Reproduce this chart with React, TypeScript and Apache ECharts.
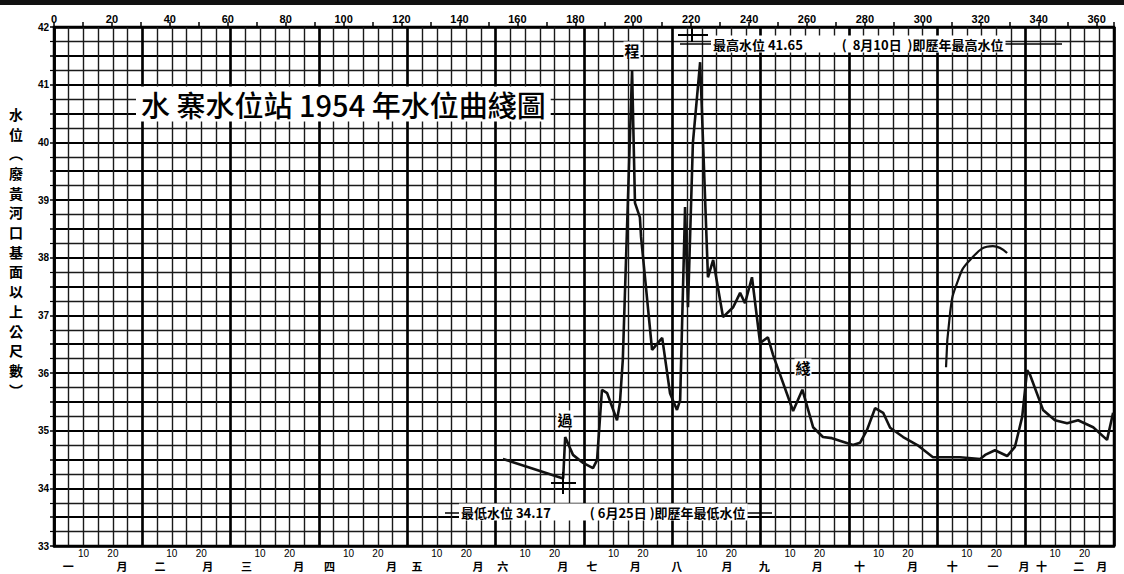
import React, { useEffect, useRef } from "react";
import * as echarts from "echarts";

// Day of year (1954) and water level (m above the old Yellow River mouth datum)
const dayOfYear = [155.0, 175.8, 176.5, 179.2, 182.7, 186.1, 187.5, 189.2, 191.0, 194.4, 195.4, 196.4, 199.6, 200.6, 202.3, 202.7, 206.5, 210.0, 212.7, 215.1, 216.2, 217.9, 218.9, 220.6, 223.1, 225.8, 227.6, 231.0, 234.5, 236.9, 238.6, 241.0, 243.8, 246.5, 248.3, 255.2, 258.4, 262.1, 265.5, 268.6, 275.9, 278.3, 280.7, 283.5, 286.3, 288.7, 293.2, 298.1, 303.5, 308.3, 312.8, 319.8, 321.5, 324.9, 329.1, 331.8, 334.3, 336.0, 337.0, 341.5, 345.6, 349.8, 353.6, 358.8, 363.6, 365.7];
const waterLevel = [34.51, 34.17, 34.89, 34.58, 34.44, 34.35, 34.49, 35.71, 35.65, 35.18, 35.48, 36.23, 41.25, 38.95, 38.70, 38.36, 36.40, 36.61, 35.65, 35.36, 35.53, 38.88, 37.14, 39.99, 41.39, 37.66, 37.96, 36.97, 37.14, 37.39, 37.21, 37.66, 36.52, 36.62, 36.31, 35.34, 35.71, 35.06, 34.89, 34.87, 34.75, 34.79, 35.01, 35.39, 35.31, 35.05, 34.89, 34.75, 34.54, 34.54, 34.54, 34.51, 34.58, 34.66, 34.56, 34.72, 35.24, 36.05, 35.97, 35.36, 35.18, 35.13, 35.18, 35.06, 34.84, 35.31];

// separate arc drawn in November
const arcDays = [308.0, 309.4, 311.8, 316.3, 324.2, 329.1];
const arcLevels = [36.10, 37.04, 37.56, 37.96, 38.20, 38.08];

// bottom axis labels (in month units)
const dayLabelTexts = ["10", "20"];
const monthLabelPos = [0.16, 0.77, 1.2, 1.74, 2.18, 2.77, 3.12, 3.82, 4.11, 4.8, 5.08, 5.76, 6.09, 6.58, 7.05, 7.62, 8.04, 8.64, 9.12, 9.72, 10.17, 10.63, 10.98, 11.18, 11.6, 11.86];
const monthLabelTexts = ["一", "月", "二", "月", "三", "月", "四", "月", "五", "月", "六", "月", "七", "月", "八", "月", "九", "月", "十", "月", "十", "一", "月", "十", "二", "月"];

const titleText = "水 寨水位站 1954 年水位曲綫圖";
const yTitleChars = ["水", "位", "︵", "廢", "黃", "河", "口", "基", "面", "以", "上", "公", "尺", "數", "︶"];
const maxNote = "最高水位 41.65　　　(  8月10日  )即歷年最高水位";
const minNote = "最低水位 34.17　　　( 6月25日 )即歷年最低水位";

const CJK = '"Noto Sans CJK TC", "Noto Sans CJK SC", sans-serif';

export default function App() {
  const ref = useRef<HTMLDivElement>(null);
  useEffect(() => {
    if (!ref.current) return;
    const chart = echarts.init(ref.current, undefined, { renderer: "svg" });

    const dayLabelPos: number[] = [];
    for (let m = 0; m < 12; m++) {
      dayLabelPos.push(m + 1 / 3, m + 2 / 3);
    }
    const nearestText = (v: number, pos: number[], texts: string[]) => {
      let best = 0;
      let bd = Infinity;
      pos.forEach((p, i) => {
        const d = Math.abs(p - v);
        if (d < bd) { bd = d; best = i; }
      });
      return bd < 0.02 ? texts[best] : "";
    };

    const option: any = {
      animation: false,
      backgroundColor: "#fff",
      grid: { left: 54, right: 10, top: 27, bottom: 28, show: true, borderColor: "#000", borderWidth: 2.5 },
      xAxis: [
        { type: "value", min: 0, max: 366, show: false, position: "bottom" },
        {
          type: "value", min: 0, max: 366, interval: 10, position: "top",
          axisLine: { show: true, lineStyle: { color: "#000", width: 2.5 } },
          axisTick: { show: true, length: 5, lineStyle: { color: "#000", width: 1.5 } },
          axisLabel: {
            formatter: (v: number) => (v % 20 === 0 && v <= 360 ? String(v) : ""),
            fontSize: 11, fontWeight: "bold", color: "#000", margin: 3, fontFamily: "Liberation Sans",
          },
          splitLine: { show: false },
        },
        {
          type: "value", min: 0, max: 12, interval: 1, position: "bottom",
          axisLine: { show: true, lineStyle: { color: "#000", width: 2.5 } },
          axisTick: { show: false },
          splitLine: { show: true, lineStyle: { color: "#000", width: 2.6 } },
          axisLabel: {
            customValues: dayLabelPos,
            formatter: (v: number) => {
              const frac = v - Math.floor(v + 1e-6);
              return frac < 0.5 ? dayLabelTexts[0] : dayLabelTexts[1];
            },
            fontSize: 10, color: "#000", margin: 2, fontFamily: "Liberation Sans",
          },
          z: 3,
        },
        {
          type: "value", min: 0, max: 12, position: "bottom", offset: 12,
          axisLine: { show: false }, axisTick: { show: false }, splitLine: { show: false },
          axisLabel: {
            customValues: monthLabelPos,
            formatter: (v: number) => nearestText(v, monthLabelPos, monthLabelTexts),
            fontSize: 11, fontWeight: "bold", color: "#000", margin: 2, fontFamily: CJK,
          },
        },
        {
          // six cells per month
          type: "value", min: 0, max: 72, interval: 1, position: "top",
          axisLine: { show: false }, axisTick: { show: false }, axisLabel: { show: false },
          splitLine: { show: true, lineStyle: { color: "#1a1a1a", width: 1.4 } },
          z: 1,
        },
      ],
      yAxis: [
        {
          type: "value", min: 33, max: 42, interval: 0.5,
          axisLine: { show: true, lineStyle: { color: "#000", width: 2.5 } },
          axisTick: { show: true, length: 4, lineStyle: { color: "#000", width: 1.5 } },
          minorTick: { show: true, splitNumber: 2, length: 4, lineStyle: { color: "#000", width: 1.2 } },
          splitLine: { show: true, lineStyle: { color: "#000", width: 2.2 } },
          minorSplitLine: { show: true, lineStyle: { color: "#1a1a1a", width: 1.4 } },
          axisLabel: {
            formatter: (v: number) => (Math.abs(v - Math.round(v)) < 1e-6 ? String(Math.round(v)) : ""),
            fontSize: 10, fontWeight: "bold", color: "#000", margin: 5, fontFamily: "Liberation Sans",
          },
        },
      ],
      series: [
        {
          type: "line", xAxisIndex: 0, yAxisIndex: 0, showSymbol: false, z: 5,
          lineStyle: { color: "#111", width: 2.6 },
          data: dayOfYear.map((d, i) => [d, waterLevel[i]]),
        },
        {
          type: "line", xAxisIndex: 0, yAxisIndex: 0, showSymbol: false, smooth: true, z: 5,
          lineStyle: { color: "#111", width: 2.2 },
          data: arcDays.map((d, i) => [d, arcLevels[i]]),
        },
      ],
      graphic: [
        { type: "rect", shape: { x: 0, y: 0, width: 1124, height: 5 }, style: { fill: "#111" }, z: 100 },
        {
          type: "text", x: 136, y: 104, z: 100,
          style: {
            text: titleText, font: `500 29px ${CJK}`, fill: "#000", verticalAlign: "middle",
            backgroundColor: "#fff", padding: [3, 5],
          },
        },
        {
          type: "text", x: 16, y: 104, z: 100,
          style: {
            text: yTitleChars.join("\n"), font: `bold 14px ${CJK}`, fill: "#000",
            align: "center", lineHeight: 19.7,
          },
        },
        // max note
        { type: "line", z: 100, shape: { x1: 680, y1: 44, x2: 1062, y2: 44 }, style: { stroke: "#000", lineWidth: 1.5 } },
        { type: "line", z: 100, shape: { x1: 678, y1: 35, x2: 708, y2: 35 }, style: { stroke: "#000", lineWidth: 2 } },
        { type: "line", z: 100, shape: { x1: 692, y1: 28, x2: 692, y2: 42 }, style: { stroke: "#000", lineWidth: 2 } },
        {
          type: "text", x: 711, y: 44, z: 101,
          style: { text: maxNote, font: `bold 13px ${CJK}`, fill: "#000", verticalAlign: "middle", backgroundColor: "#fff", padding: [2, 2] },
        },
        // min note
        { type: "line", z: 100, shape: { x1: 445, y1: 513, x2: 772, y2: 513 }, style: { stroke: "#000", lineWidth: 1.5 } },
        { type: "line", z: 100, shape: { x1: 551, y1: 483, x2: 576, y2: 483 }, style: { stroke: "#000", lineWidth: 2 } },
        { type: "line", z: 100, shape: { x1: 563, y1: 472, x2: 563, y2: 494 }, style: { stroke: "#000", lineWidth: 2 } },
        {
          type: "text", x: 459, y: 512, z: 101,
          style: { text: minNote, font: `bold 13px ${CJK}`, fill: "#000", verticalAlign: "middle", backgroundColor: "#fff", padding: [2, 2] },
        },
        // process line labels
        {
          type: "text", x: 632, y: 50, z: 101,
          style: { text: "程", font: `bold 15px ${CJK}`, fill: "#000", align: "center", verticalAlign: "middle", backgroundColor: "#fff", padding: [1, 1] },
        },
        {
          type: "text", x: 565, y: 419, z: 101,
          style: { text: "過", font: `bold 15px ${CJK}`, fill: "#000", align: "center", verticalAlign: "middle", backgroundColor: "#fff", padding: [1, 1] },
        },
        {
          type: "text", x: 803, y: 367, z: 101,
          style: { text: "綫", font: `bold 15px ${CJK}`, fill: "#000", align: "center", verticalAlign: "middle", backgroundColor: "#fff", padding: [1, 1] },
        },
      ],
    };
    chart.setOption(option);
    return () => chart.dispose();
  }, []);

  return (
    <div
      ref={ref}
      style={{ position: "fixed", left: 0, top: 0, width: 1124, height: 574, background: "#fff" }}
    />
  );
}
